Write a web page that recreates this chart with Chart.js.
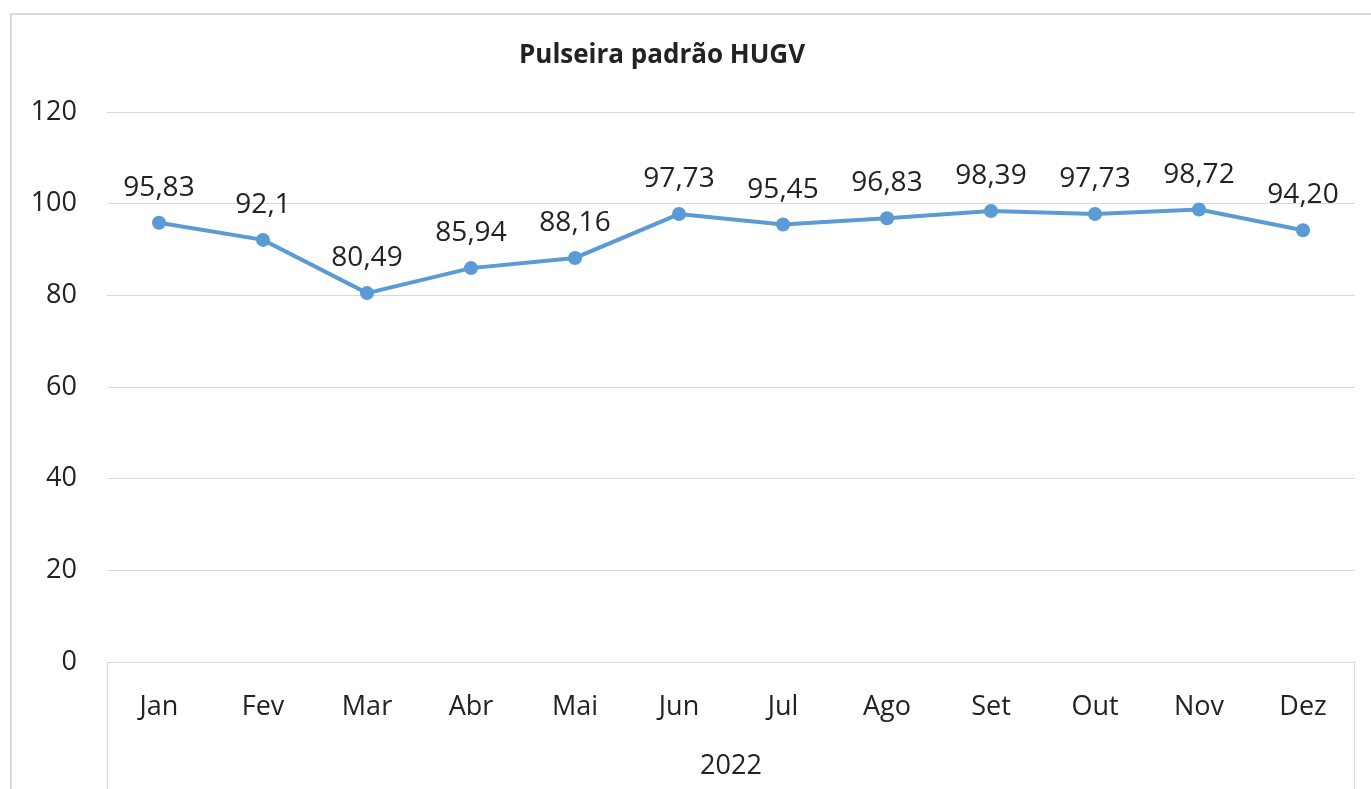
<!DOCTYPE html>
<html>
<head>
<meta charset="utf-8">
<script src="https://cdn.jsdelivr.net/npm/chart.js@4/dist/chart.umd.min.js"></script>
<style>
  html, body { margin: 0; padding: 0; background: #fff; }
  #wrap { position: relative; width: 1371px; height: 789px; }
</style>
</head>
<body>
<div id="wrap"><canvas id="pulseiraChart"></canvas></div>
<script>
// ===== DATA =====
const chartTitle = 'Pulseira padrão HUGV';
const yearLabel = '2022';
const months = ['Jan', 'Fev', 'Mar', 'Abr', 'Mai', 'Jun', 'Jul', 'Ago', 'Set', 'Out', 'Nov', 'Dez'];
const values = [95.83, 92.1, 80.49, 85.94, 88.16, 97.73, 95.45, 96.83, 98.39, 97.73, 98.72, 94.20];
const valueLabels = ['95,83', '92,1', '80,49', '85,94', '88,16', '97,73', '95,45', '96,83', '98,39', '97,73', '98,72', '94,20'];
const yTicks = [0, 20, 40, 60, 80, 100, 120];

const FONT = "'Open Sans', 'Noto Sans', sans-serif";
const TEXT_COLOR = '#222222';
const GRID_COLOR = '#d9d9d9';
const LINE_COLOR = '#5b9bd5';

// ===== EXTRA DRAWING: frame, title, value labels, year group =====
const decorPlugin = {
    id: 'decor',
    beforeDraw(chart) {
        const ctx = chart.ctx;
        ctx.save();
        ctx.strokeStyle = GRID_COLOR;
        ctx.lineWidth = 2;
        ctx.beginPath();
        ctx.moveTo(11, chart.height);
        ctx.lineTo(11, 14);
        ctx.lineTo(chart.width, 14);
        ctx.stroke();
        ctx.restore();
    },
    afterDraw(chart) {
        const ctx = chart.ctx;
        const area = chart.chartArea;
        ctx.save();

        // title
        ctx.fillStyle = TEXT_COLOR;
        ctx.font = "bold 26px " + FONT;
        ctx.textAlign = 'center';
        ctx.textBaseline = 'middle';
        ctx.fillText(chartTitle, 662, 56);

        // multi-level category box
        ctx.strokeStyle = GRID_COLOR;
        ctx.lineWidth = 1;
        ctx.beginPath();
        ctx.moveTo(area.left + 0.5, area.bottom);
        ctx.lineTo(area.left + 0.5, chart.height);
        ctx.moveTo(area.right - 0.5, area.bottom);
        ctx.lineTo(area.right - 0.5, chart.height);
        ctx.stroke();

        // year
        ctx.font = "27px " + FONT;
        ctx.fillText(yearLabel, (area.left + area.right) / 2, 766);

        // value labels
        const meta = chart.getDatasetMeta(0);
        ctx.font = "28px " + FONT;
        ctx.textBaseline = 'alphabetic';
        meta.data.forEach((pt, i) => {
            ctx.fillText(valueLabels[i], pt.x, pt.y - 27);
        });
        ctx.restore();
    }
};

function createChart() {
    const ctx = document.getElementById('pulseiraChart');
    new Chart(ctx.getContext('2d'), {
        type: 'line',
        data: {
            labels: months,
            datasets: [{
                label: chartTitle,
                data: values,
                borderColor: LINE_COLOR,
                backgroundColor: LINE_COLOR,
                borderWidth: 4,
                pointRadius: 7,
                pointHoverRadius: 7,
                pointBorderWidth: 0,
                tension: 0
            }]
        },
        options: {
            responsive: true,
            maintainAspectRatio: false,
            animation: false,
            layout: { padding: { top: 112, right: 16, bottom: 0, left: 0 } },
            plugins: {
                legend: { display: false },
                title: { display: false },
                tooltip: { enabled: false }
            },
            scales: {
                x: {
                    offset: true,
                    grid: { display: false },
                    border: { display: true, color: GRID_COLOR, width: 1 },
                    ticks: {
                        color: TEXT_COLOR,
                        font: { family: FONT, size: 27 },
                        padding: 21,
                        maxRotation: 0
                    },
                    afterFit(scale) { scale.height = 127; }
                },
                y: {
                    min: 0,
                    max: 120,
                    afterBuildTicks(scale) {
                        scale.ticks = yTicks.map(v => ({ value: v }));
                    },
                    grid: {
                        color: GRID_COLOR,
                        lineWidth: 1,
                        drawTicks: false
                    },
                    border: { display: false },
                    ticks: {
                        color: TEXT_COLOR,
                        font: { family: FONT, size: 27 },
                        padding: 30
                    },
                    afterFit(scale) { scale.width = 107; }
                }
            }
        },
        plugins: [decorPlugin]
    });
}

createChart();
</script>
</body>
</html>
